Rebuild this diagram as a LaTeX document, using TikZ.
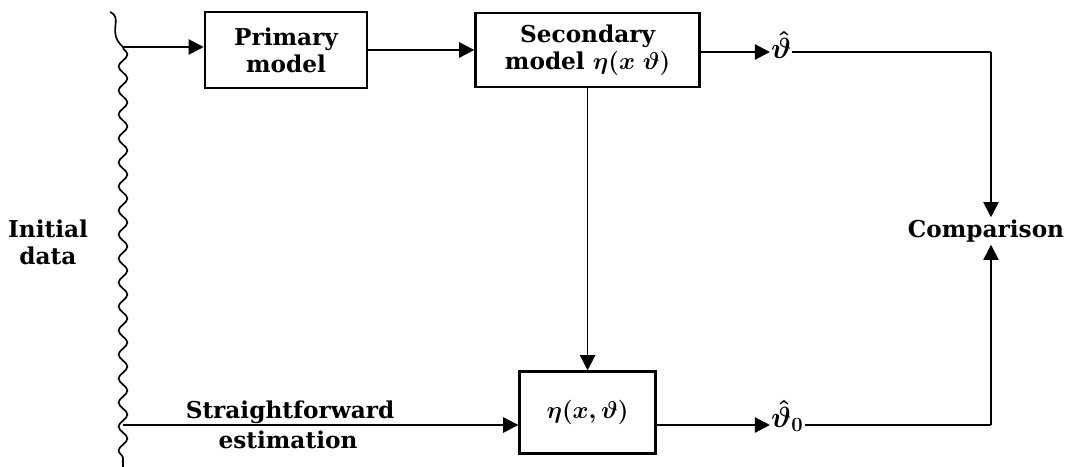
\documentclass[tikz,border=0pt]{standalone}
\usepackage{fontspec}
\setmainfont{DejaVu Serif}
\usetikzlibrary{positioning, arrows.meta, calc, decorations.pathmorphing}

\begin{document}
\begin{tikzpicture}[x=0.025cm, y=-0.025cm, font=\bfseries\fontsize{16.5}{19}\selectfont\boldmath,
  >={Triangle[length=3.8mm, width=3.8mm]}, line width=1.6pt,
  block/.style={draw, line width=1.8pt, align=center, inner sep=0pt},
  lbl/.style={inner sep=1pt, align=center},
  est/.style={inner sep=0pt, font=\bfseries\boldmath\fontsize{22}{24}\selectfont},
  thin/.style={line width=1.2pt}]
  \useasboundingbox (0,0) rectangle (1068,467);
  % wavy input line
  \coordinate (inTop) at (123,47);
  \coordinate (inBot) at (123,425);
  \draw[thin] (110,12) .. controls (124,18) and (106,32) .. (inTop);
  \draw[thin, decorate, decoration={snake, amplitude=1.1mm, segment length=6mm}] (inTop) -- (123,467);
  \node[lbl] (init) at (48,242) {Initial\\data};
  % blocks
  \node[block, minimum width=4.05cm, minimum height=1.9cm] (prim) at (286,50) {Primary\\model};
  \node[block, minimum width=5.6cm, minimum height=1.85cm, right=2.65cm of prim] (sec) {Secondary\\model $\eta(x\;\vartheta)$};
  \node[block, minimum width=3.4cm, minimum height=2.05cm, below=7.05cm of sec] (eta) {$\eta(x,\vartheta)$};
  % outputs
  \node[est, anchor=west] (th) at (770,45) {$\hat{\vartheta}$};
  \node[est, anchor=west] (th0) at (770,416) {$\hat{\vartheta}_0$};
  \node[lbl] (cmp) at (986,231) {Comparison};
  \coordinate (thR) at (991,52);
  \coordinate (th0R) at (991,425);
  \node[lbl, anchor=south] (sfw) at (290,426) {Straightforward};
  \node[lbl, anchor=north] (est) at (288,428) {estimation};
  % connectors
  \draw[->] (inTop) -- (inTop -| prim.west);
  \draw[->] (prim.east) -- (prim.east -| sec.west);
  \draw[->] (sec.east |- thR) -- (th.west |- thR);
  \draw (th.east |- thR) -- (thR);
  \draw[->, thin] (thR) -- (thR |- cmp.north);
  \draw[->, thin] (sec.south) -- (eta.north);
  \draw[->] (inBot) -- (inBot -| eta.west);
  \draw[->] (eta.east |- inBot) -- (th0.west |- inBot);
  \draw (th0.east |- th0R) -- (th0R);
  \draw[->, thin] (th0R) -- (th0R |- cmp.south);
\end{tikzpicture}
\end{document}
